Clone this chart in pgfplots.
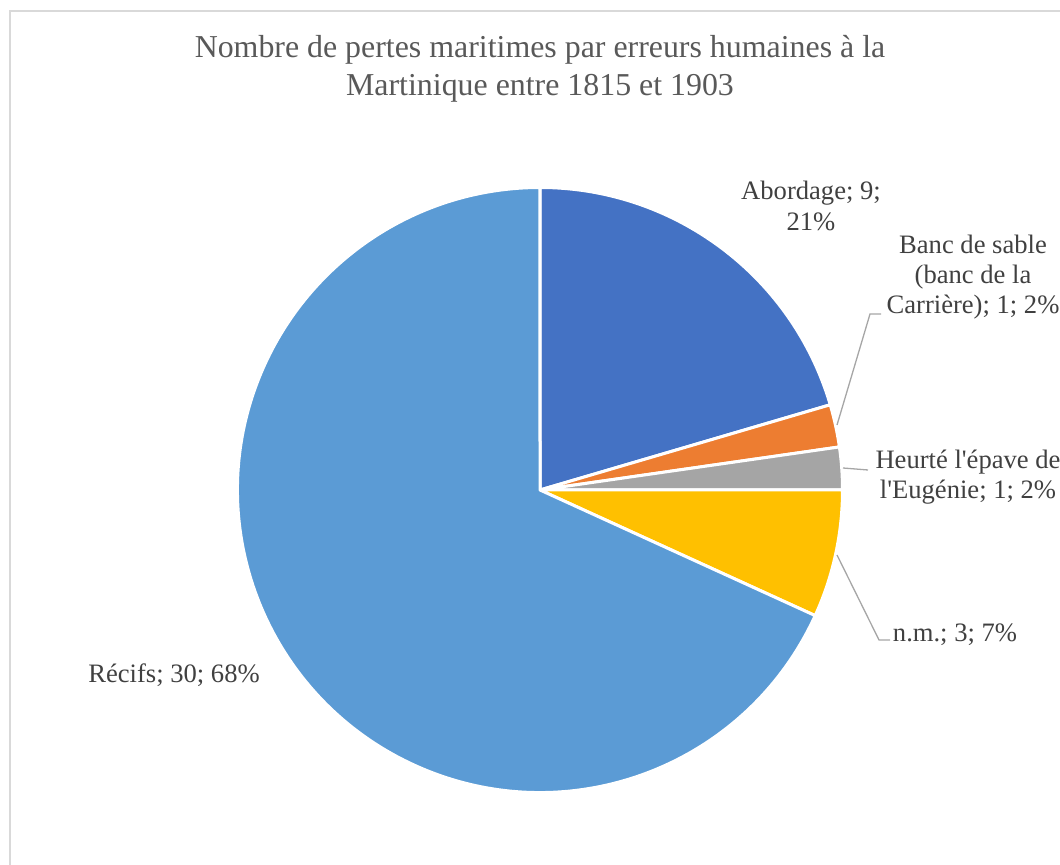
\documentclass[border=0pt]{standalone}
\usepackage{pgfplots}
\usepackage{pgfplotstable}
\pgfplotsset{compat=1.18}
\usepackage{fontspec}
\setmainfont{Liberation Serif}

\definecolor{c0}{HTML}{4472C4}
\definecolor{c1}{HTML}{ED7D31}
\definecolor{c2}{HTML}{A5A5A5}
\definecolor{c3}{HTML}{FFC000}
\definecolor{c4}{HTML}{5B9BD5}
\definecolor{titlegray}{HTML}{595959}
\definecolor{labelgray}{HTML}{404040}
\definecolor{leader}{HTML}{A6A6A6}
\definecolor{frame}{HTML}{D9D9D9}

% pertes maritimes par cause
\pgfplotstableread{
label value
Abordage 9
BancDeSable 1
EpaveEugenie 1
nm 3
Recifs 30
}\piedata

% total and slice angles (start at top, clockwise)
\gdef\total{0}
\pgfplotstableforeachcolumnelement{value}\of\piedata\as\v{%
  \pgfmathsetmacro\t{\total+\v}\global\let\total\t}
\gdef\ang{90}
\pgfplotsforeachungrouped \i in {0,...,4}{%
  \pgfplotstablegetelem{\i}{value}\of\piedata
  \pgfmathsetmacro\e{\ang-\pgfplotsretval/\total*360}%
  \expandafter\xdef\csname sa\i\endcsname{\ang}%
  \expandafter\xdef\csname ea\i\endcsname{\e}%
  \xdef\ang{\e}%
}

\begin{document}
\begin{tikzpicture}
\useasboundingbox (0,0) rectangle (1060bp,865bp);
\begin{axis}[
    at={(0,0)}, anchor=south west,
    width=1060bp, height=865bp,
    scale only axis,
    xmin=0, xmax=1060, ymin=0, ymax=865,
    hide axis,
    clip=false,
]
% chart frame
\draw[frame, line width=1.5bp] (axis cs:10,0) -- (axis cs:10,854) -- (axis cs:1070,854);

% slices
\pgfplotsinvokeforeach{0,...,4}{
  \fill[fill=c#1, draw=white, line width=3bp, line join=round]
    (axis cs:540,375) -- +(\csname sa#1\endcsname:302.5bp)
    arc[start angle=\csname sa#1\endcsname, end angle=\csname ea#1\endcsname, radius=302.5bp]
    -- cycle;
}

% leader lines
\draw[leader, line width=1.3bp] (axis cs:837,440) -- (axis cs:870,551) -- (axis cs:881,551);
\draw[leader, line width=1.3bp] (axis cs:843,397) -- (axis cs:868,395);
\draw[leader, line width=1.3bp] (axis cs:837,310) -- (axis cs:879,225) -- (axis cs:890,225);

% title
\node[titlegray, align=center, font=\fontsize{32}{38}\selectfont]
  at (axis cs:540,796) {Nombre de pertes maritimes par erreurs humaines à la\\Martinique entre 1815 et 1903};

% data labels
\tikzset{lbl/.style={labelgray, align=center, inner sep=0pt, font=\fontsize{26.7}{30.5}\selectfont}}
\node[lbl] at (axis cs:811,659) {Abordage; 9;\\21\%};
\node[lbl] at (axis cs:973,588) {Banc de sable\\(banc de la\\Carrière); 1; 2\%};
\node[lbl] at (axis cs:968,388) {Heurté l\textquotesingle épave de\\l\textquotesingle Eugénie; 1; 2\%};
\node[lbl] at (axis cs:955,230) {n.m.; 3; 7\%};
\node[lbl] at (axis cs:174,190) {Récifs; 30; 68\%};
\end{axis}
\end{tikzpicture}
\end{document}
